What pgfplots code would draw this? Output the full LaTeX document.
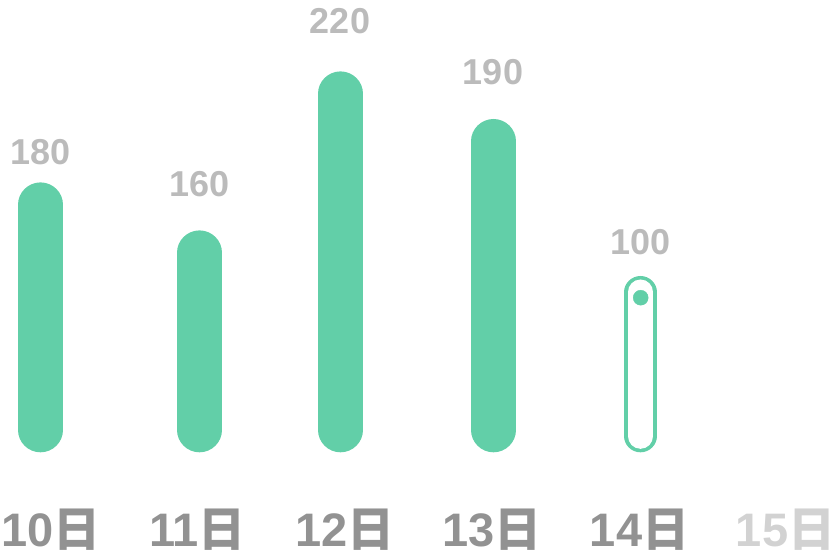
\documentclass[border=0pt]{standalone}
\usepackage{pgfplots}
\pgfplotsset{compat=1.18}
\usepackage{pgfplotstable}
\usepackage{fontspec}
\setmainfont{Liberation Sans}
\newfontfamily\cjk{Noto Sans CJK SC}
\definecolor{barg}{RGB}{98,207,168}
\definecolor{vallab}{RGB}{187,187,187}
\definecolor{xlab}{RGB}{146,146,146}
\definecolor{xlabl}{RGB}{210,210,210}

\pgfplotstableread{
x h
40.5 225.3
199.5 177.3
340.5 336.3
493.5 288.7
}\bars
\pgfplotstableread{
x y lab
40.5 278 180
199.2 245.7 160
340 408.7 220
493 358 190
640.3 188 100
}\labs
\pgfplotstableread{
x y
640.5 -6.1
640.5 137.8
}\obar
\pgfplotstableread{
x y
640.7 132.3
}\dot

\begin{document}
\begin{tikzpicture}
\begin{axis}[
  scale only axis, width=840bp, height=558bp,
  xmin=0, xmax=840, ymin=-128, ymax=430,
  axis lines=box, axis line style={draw=none}, clip=false,
  ytick=\empty,
  xtick={51.3,197.5,345.3,492.3,639.5,785.5},
  xticklabels={{10\cjk 日},{11\cjk 日},{12\cjk 日},{13\cjk 日},{14\cjk 日},{\textcolor{xlabl}{15\cjk 日}}},
  major tick length=0pt,
  xtick style={draw=none},
  x tick label style={anchor=base, yshift=11.3bp, inner sep=0pt,
    font=\bfseries\fontsize{47bp}{47bp}\selectfont, text=xlab},
]
\addplot[ycomb, draw=barg, line width=44.6bp, line cap=round, mark=none]
  table[x=x, y=h] {\bars};
\addplot[draw=barg, line width=32.4bp, line cap=round, mark=none]
  table[x=x, y=y] {\obar};
\addplot[draw=white, line width=25.4bp, line cap=round, mark=none]
  table[x=x, y=y] {\obar};
\addplot[only marks, mark=*, mark size=7.5bp, barg, draw=barg, fill=barg]
  table[x=x, y=y] {\dot};
\addplot[draw=none, mark=none, nodes near coords, point meta=explicit symbolic,
  every node near coord/.append style={anchor=center, inner sep=0pt,
    font=\bfseries\fontsize{36bp}{36bp}\selectfont, text=vallab}]
  table[x=x, y=y, meta=lab] {\labs};
\end{axis}
\end{tikzpicture}
\end{document}
